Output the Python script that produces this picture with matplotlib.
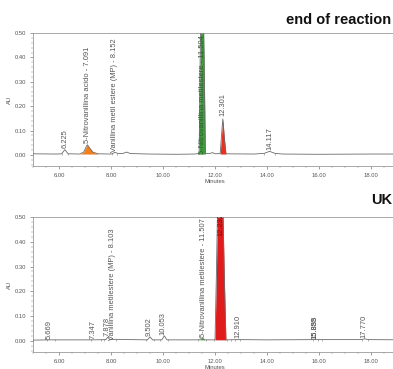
import numpy as np
import matplotlib
matplotlib.use("Agg")
import matplotlib.pyplot as plt
from matplotlib.ticker import MultipleLocator, FormatStrFormatter

plt.rcParams['font.family'] = ['Liberation Sans', 'DejaVu Sans']

# -----------------------------------------
# Data (minutes, AU)
# -----------------------------------------
top_t = [5.0, 5.9, 6.10, 6.225, 6.35, 6.80, 6.95, 7.05, 7.09, 7.15, 7.30, 7.50,
         8.0, 8.10, 8.15, 8.25, 8.45, 8.60, 8.75, 9.5, 10.5, 11.2, 11.39, 11.43,
         11.50, 11.58, 11.63, 11.80, 11.90, 12.0, 12.20, 12.25, 12.30, 12.36, 12.42,
         13.5, 13.9, 14.1, 14.3, 14.6, 16.0, 18.0, 19.5]
top_au = [0.005, 0.004, 0.005, 0.022, 0.005, 0.004, 0.012, 0.035, 0.042, 0.033, 0.012, 0.005,
          0.004, 0.008, 0.011, 0.007, 0.006, 0.012, 0.006, 0.004, 0.003, 0.004, 0.006, 0.40,
          0.90, 0.40, 0.006, 0.006, 0.010, 0.005, 0.006, 0.080, 0.148, 0.070, 0.005,
          0.004, 0.007, 0.015, 0.007, 0.004, 0.003, 0.004, 0.004]

bot_t = [5.0, 5.67, 7.35, 7.80, 7.878, 7.96, 8.10, 9.40, 9.502, 9.60, 9.95, 10.053,
         10.15, 11.0, 11.40, 11.507, 11.60, 12.00, 12.05, 12.10, 12.20, 12.30, 12.36,
         12.42, 12.91, 14.0, 15.86, 15.89, 17.60, 17.77, 17.90, 19.5]
bot_au = [0.003, 0.004, 0.004, 0.005, 0.015, 0.005, 0.006, 0.004, 0.016, 0.004, 0.004, 0.020,
          0.004, 0.004, 0.004, 0.013, 0.004, 0.004, 0.25, 0.55, 0.90, 0.55, 0.25,
          0.004, 0.005, 0.004, 0.005, 0.005, 0.005, 0.008, 0.005, 0.004]

# filled peaks: (start, end, colour)
top_fills = [(6.80, 7.50, "#f07f1c"), (11.39, 11.63, "#3f9c3c"), (12.20, 12.42, "#e8321e")]
bot_fills = [(11.40, 11.60, "#3f9c3c"), (12.00, 12.42, "#e01b1b")]

# peak labels: (x, y bottom of text, text, colour)
top_labels = [(6.225, 0.028, "6.225", "#555555"),
              (7.091, 0.048, "5-Nitrovanillina acido - 7.091", "#555555"),
              (8.152, 0.012, "Vanillina metil estere (MP) - 8.152", "#555555"),
              (11.504, 0.004, "5-Nitrovanillina metilestere - 11.504", "#2d5a2d"),
              (12.301, 0.160, "12.301", "#555555"),
              (14.117, 0.022, "14.117", "#555555")]
bot_labels = [(5.62, 0.006, "5.669", "#555555"),
              (7.30, 0.008, "7.347", "#555555"),
              (7.83, 0.018, "7.878", "#555555"),
              (8.06, 0.004, "Vanillina metilestere (MP) - 8.103", "#555555"),
              (9.46, 0.020, "9.502", "#555555"),
              (10.01, 0.024, "10.053", "#555555"),
              (11.54, 0.016, "5-Nitrovanillina metilestere - 11.507", "#555555"),
              (12.21, 0.425, "12.232", "#7a1010"),
              (12.88, 0.010, "12.910", "#555555"),
              (15.83, 0.008, "15.855", "#555555"),
              (15.86, 0.008, "15.888", "#555555"),
              (17.73, 0.012, "17.770", "#555555")]

# small integration marks on the baseline
bot_marks = [5.55, 5.85, 7.25, 7.60, 7.72, 8.20, 9.35, 9.65, 9.90, 10.20, 11.35, 11.65,
             11.95, 12.48, 12.60, 12.78, 12.98, 15.78, 15.95, 16.10, 17.65, 17.90]
top_marks = [6.12, 6.33, 8.05, 8.25, 13.9, 14.3]


def draw_panel(ax, t, au, fills, labels, marks):
    t = np.array(t)
    au = np.array(au)
    for a, b, col in fills:
        m = (t >= a) & (t <= b)
        ax.fill_between(t[m], 0.004, au[m], color=col, lw=0, zorder=2)
    ax.plot(t, au, color="#6b6b6b", lw=0.6, zorder=3)
    ax.plot(marks, [0.003] * len(marks), ls="none", marker="|", ms=2,
            mew=0.4, color="#777777", zorder=3)
    for x, y, txt, col in labels:
        ax.text(x, y, txt, rotation=90, ha="center", va="bottom", fontsize=5.4,
                color=col, zorder=4, clip_on=True)

    ax.set_xlim(5.0, 19.0)
    ax.set_ylim(-0.045, 0.5)
    ax.xaxis.set_major_locator(MultipleLocator(2))
    ax.xaxis.set_minor_locator(MultipleLocator(0.5))
    ax.yaxis.set_major_locator(MultipleLocator(0.1))
    ax.yaxis.set_minor_locator(MultipleLocator(0.02))
    ax.xaxis.set_major_formatter(FormatStrFormatter("%.2f"))
    ax.yaxis.set_major_formatter(FormatStrFormatter("%.2f"))
    ax.tick_params(labelsize=4.2, colors="#555555", width=0.4, length=2.5, pad=2.5)
    ax.tick_params(which="minor", width=0.3, length=1.5, colors="#777777")
    for s in ax.spines.values():
        s.set_color("#9a9a9a")
        s.set_linewidth(0.6)
    ax.set_ylabel("AU", fontsize=4.2, color="#555555", labelpad=2)
    ax.set_xlabel("Minutes", fontsize=4.2, color="#555555", labelpad=0.5)


fig = plt.figure(figsize=(3.93, 3.69), dpi=100)

W, H = 393.0, 369.0
x0, x1 = 33.0, 33.0 + 14 * 26.0

ax1 = fig.add_axes([x0 / W, 1 - 166 / H, (x1 - x0) / W, (166 - 33) / H])
draw_panel(ax1, top_t, top_au, top_fills, top_labels, top_marks)

ax2 = fig.add_axes([x0 / W, 1 - 352 / H, (x1 - x0) / W, (352 - 217) / H])
draw_panel(ax2, bot_t, bot_au, bot_fills, bot_labels, bot_marks)

fig.text(391 / W, 1 - 20 / H, "end of reaction", ha="right", va="center",
         fontsize=10.5, fontweight="bold", color="#111111")
fig.text(371 / W, 1 - 200 / H, "UK", ha="left", va="center",
         fontsize=10.5, fontweight="bold", color="#111111")

fig.savefig("out.png", dpi=100)
